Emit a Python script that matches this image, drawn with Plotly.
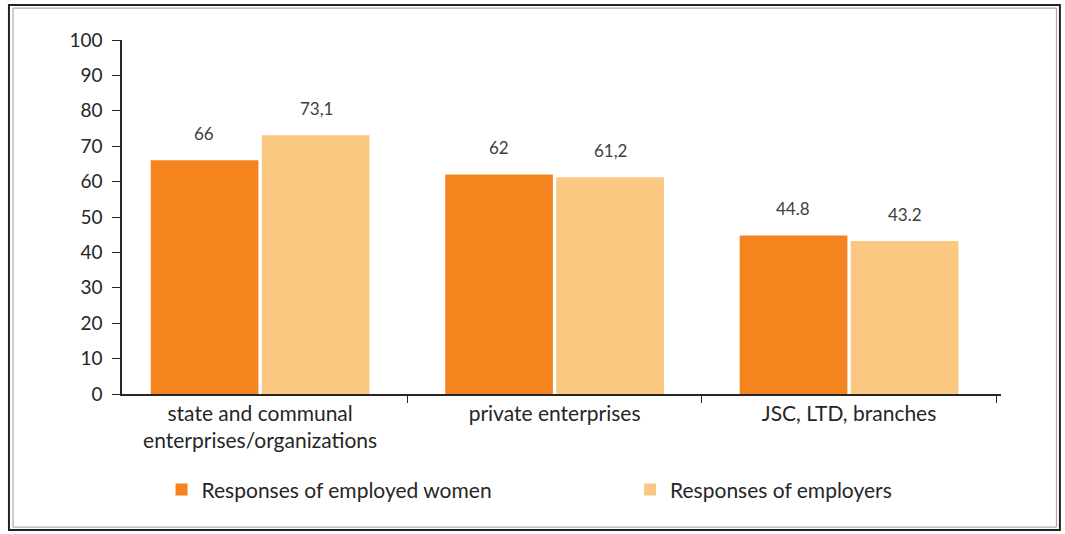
import plotly.graph_objects as go

categories = ["state and communal<br>enterprises/organizations", "private enterprises", "JSC, LTD, branches"]
women = [66, 62, 44.8]
employers = [73.1, 61.2, 43.2]
women_labels = ["66", "62", "44.8"]
employer_labels = ["73,1", "61,2", "43.2"]
series_names = ["Responses of employed women", "Responses of employers"]
y_ticks = [0, 10, 20, 30, 40, 50, 60, 70, 80, 90, 100]

C_DARK = "#F5841F"
C_LIGHT = "#FAC881"
FONT = "Lato, 'Open Sans', sans-serif"
TXT = "#262626"

fig = go.Figure()
fig.add_trace(go.Bar(x=categories, y=women, name=series_names[0], legend="legend",
                     marker=dict(color=C_DARK, line=dict(width=0))))
fig.add_trace(go.Bar(x=categories, y=employers, name=series_names[1], legend="legend2",
                     marker=dict(color=C_LIGHT, line=dict(width=0))))

annotations = []
for vals, labs, shift in [(women, women_labels, -56), (employers, employer_labels, 56)]:
    for c, v, t in zip(categories, vals, labs):
        annotations.append(dict(x=c, y=v, text=t, showarrow=False, xshift=shift, yshift=27,
                                yanchor="middle", font=dict(family=FONT, size=17, color="#404040")))

leg_common = dict(orientation="h", yanchor="middle", y=-0.271, xanchor="left",
                  font=dict(family=FONT, size=21, color=TXT), bgcolor="rgba(0,0,0,0)")

fig.update_layout(
    width=1065, height=534,
    margin=dict(l=122, r=64, t=40, b=140, autoexpand=False),
    paper_bgcolor="white", plot_bgcolor="white",
    barmode="group", bargap=0.246, bargroupgap=0.03,
    font=dict(family=FONT, size=19, color=TXT),
    showlegend=True,
    legend=dict(x=0.045, **leg_common),
    legend2=dict(x=0.578, **leg_common),
    annotations=annotations,
    shapes=[
        dict(type="rect", xref="paper", yref="paper", x0=-0.1286, x1=1.067, y0=-0.384, y1=1.099,
             line=dict(color="#222222", width=2), fillcolor="rgba(0,0,0,0)", layer="above"),
        dict(type="rect", xref="paper", yref="paper", x0=-0.124, x1=1.063, y0=-0.376, y1=1.090,
             line=dict(color="#9a9a9a", width=1), fillcolor="rgba(0,0,0,0)", layer="above"),
    ],
)
fig.update_yaxes(range=[0, 100], tickvals=y_ticks, showgrid=False, zeroline=False, automargin=False,
                 showline=True, linecolor=TXT, linewidth=1.5,
                 ticks="outside", ticklen=8, tickcolor=TXT, ticklabelstandoff=6,
                 tickfont=dict(family=FONT, size=19, color=TXT))
fig.update_xaxes(range=[-0.469, 2.516], showgrid=False, showline=True, linecolor=TXT, linewidth=1.5,
                 automargin=False, ticks="outside", tickson="boundaries", ticklen=7, tickcolor=TXT,
                 tickfont=dict(family=FONT, size=21, color=TXT))

fig.write_html("out.html", config={"displayModeBar": False},
               post_script="document.body.style.margin='0';")
